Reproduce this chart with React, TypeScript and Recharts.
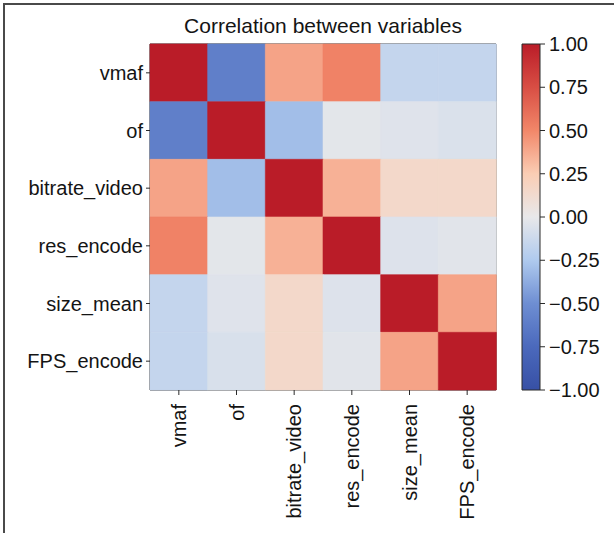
import React from 'react';
import { BarChart, Bar, XAxis, YAxis, Cell, ReferenceArea } from 'recharts';

// ---- data ----
const variables = ['vmaf', 'of', 'bitrate_video', 'res_encode', 'size_mean', 'FPS_encode'];
const vmafCorr = [1, -0.6, 0.4, 0.52, -0.16, -0.16];
const ofCorr = [-0.6, 1, -0.3, -0.02, -0.04, -0.06];
const bitrateCorr = [0.4, -0.3, 1, 0.35, 0.15, 0.15];
const resCorr = [0.52, -0.02, 0.35, 1, -0.05, -0.03];
const sizeCorr = [-0.16, -0.04, 0.15, -0.05, 1, 0.4];
const fpsCorr = [-0.16, -0.07, 0.15, -0.03, 0.4, 1];
const corrRows = [vmafCorr, ofCorr, bitrateCorr, resCorr, sizeCorr, fpsCorr];
const colorbarTicks = [1, 0.75, 0.5, 0.25, 0, -0.25, -0.5, -0.75, -1];
const colorbarRange = [-1, 1];

// palette (value -> rgb)
const paletteValues = [-1, -0.75, -0.5, -0.25, 0, 0.25, 0.5, 0.75, 1];
const paletteColors = [
  [55, 80, 165],
  [75, 105, 188],
  [110, 142, 210],
  [175, 202, 238],
  [232, 232, 234],
  [250, 205, 180],
  [242, 135, 105],
  [216, 78, 68],
  [186, 28, 40],
];

function corrColor(v: number): string {
  const c = Math.max(-1, Math.min(1, v));
  for (let i = 0; i < paletteValues.length - 1; i++) {
    const a = paletteValues[i];
    const b = paletteValues[i + 1];
    if (c >= a && c <= b) {
      const t = (c - a) / (b - a);
      const ca = paletteColors[i];
      const cb = paletteColors[i + 1];
      const r = Math.round(ca[0] + (cb[0] - ca[0]) * t);
      const g = Math.round(ca[1] + (cb[1] - ca[1]) * t);
      const bl = Math.round(ca[2] + (cb[2] - ca[2]) * t);
      return `rgb(${r},${g},${bl})`;
    }
  }
  return 'rgb(232,232,234)';
}

const columnData = variables.map((name) => {
  const rec: Record<string, number | string> = { name };
  corrRows.forEach((_, r) => {
    rec[`r${r}`] = 1;
  });
  return rec;
});

const colorbarData = [{ name: 'scale', range: colorbarRange }];

const FONT = '"Liberation Sans", Arial, Helvetica, sans-serif';
const TEXT = '#141414';
const LINE = '#2a2a2a';

const XTick = (props: any) => {
  const { x, y, payload } = props;
  return (
    <g transform={`translate(${x},${y})`}>
      <text
        transform="rotate(-90)"
        x={-7}
        y={0}
        dy="0.36em"
        textAnchor="end"
        fontSize={20}
        fontFamily={FONT}
        fill={TEXT}
      >
        {payload.value}
      </text>
    </g>
  );
};

const fmtBar = (v: number) => (v < 0 ? '\u2212' + Math.abs(v).toFixed(2) : v.toFixed(2));

export default function App() {
  return (
    <div style={{ position: 'absolute', left: 0, top: 0, width: 614, height: 533, background: '#fff', overflow: 'hidden' }}>
      <div
        style={{
          position: 'absolute',
          left: 3,
          top: 3,
          width: 611,
          height: 530,
          borderLeft: '2px solid #4a4a4a',
          borderTop: '2px solid #4a4a4a',
        }}
      />
      <div
        style={{
          position: 'absolute',
          left: 0,
          width: 646,
          top: 15,
          textAlign: 'center',
          fontFamily: FONT,
          fontSize: 21,
          lineHeight: '21px',
          color: TEXT,
          whiteSpace: 'nowrap',
        }}
      >
        Correlation between variables
      </div>
      <div style={{ position: 'absolute', left: 0, top: 0 }}>
        <BarChart
          width={614}
          height={533}
          data={columnData}
          margin={{ top: 44, right: 118, bottom: 0, left: 0 }}
          barCategoryGap={0}
          barGap={0}
        >
          <XAxis
            dataKey="name"
            height={143}
            interval={0}
            axisLine={false}
            tickSize={5}
            tickLine={{ stroke: LINE }}
            tick={<XTick />}
          />
          <YAxis
            type="number"
            domain={[0, 6]}
            reversed
            ticks={[0.5, 1.5, 2.5, 3.5, 4.5, 5.5]}
            tickFormatter={(v: number) => variables[Math.floor(v)]}
            width={150}
            axisLine={false}
            tickSize={4}
            tickMargin={3}
            tickLine={{ stroke: LINE }}
            tick={{ fontSize: 20, fontFamily: FONT, fill: TEXT }}
            interval={0}
          />
          {corrRows.map((row, r) => (
            <Bar key={r} dataKey={`r${r}`} stackId="m" isAnimationActive={false}>
              {row.map((v, ci) => (
                <Cell key={ci} fill={corrColor(v)} stroke={corrColor(v)} strokeWidth={0.6} />
              ))}
            </Bar>
          ))}
          <ReferenceArea y1={0} y2={6} fill="none" fillOpacity={0} stroke={LINE} strokeWidth={1} ifOverflow="visible" />
        </BarChart>
      </div>
      <div style={{ position: 'absolute', left: 0, top: 0 }}>
        <BarChart
          width={614}
          height={533}
          data={colorbarData}
          margin={{ top: 44, right: 0, bottom: 143, left: 522 }}
          barCategoryGap={0}
        >
          <defs>
            <linearGradient id="coolwarmGrad" x1="0" y1="0" x2="0" y2="1">
              {paletteValues
                .map((v, i) => ({ v, i }))
                .reverse()
                .map(({ v, i }) => (
                  <stop key={i} offset={`${((1 - v) / 2) * 100}%`} stopColor={corrColor(v)} />
                ))}
            </linearGradient>
          </defs>
          <XAxis dataKey="name" hide />
          <YAxis
            orientation="right"
            type="number"
            domain={[-1, 1]}
            ticks={colorbarTicks}
            interval={0}
            width={74}
            axisLine={false}
            tickSize={5}
            tickMargin={4}
            tickLine={{ stroke: LINE }}
            tickFormatter={fmtBar}
            tick={{ fontSize: 20, fontFamily: FONT, fill: TEXT, textAnchor: 'start' }}
          />
          <Bar dataKey="range" fill="url(#coolwarmGrad)" stroke={LINE} strokeWidth={1} isAnimationActive={false} />
        </BarChart>
      </div>
    </div>
  );
}
